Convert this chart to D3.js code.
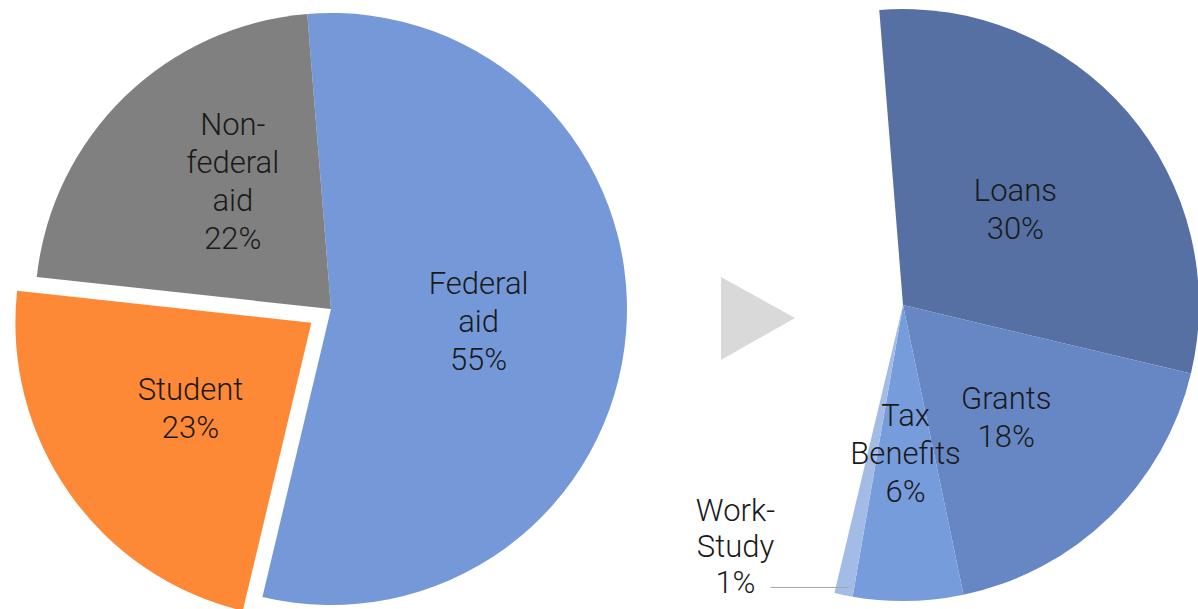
<!DOCTYPE html>
<html>
<head>
<meta charset="utf-8">
<script src="https://cdn.jsdelivr.net/npm/d3@7"></script>
<style>
  body { margin: 0; background: #fff; }
  svg text { font-family: Roboto, "Liberation Sans", sans-serif; font-weight: 300; fill: #1a1a1a; }
</style>
</head>
<body>
<div id="chart"></div>
<script>
// funding sources (left pie)
var sources = ["Federal aid", "Student", "Non-federal aid"];
var sourceLabels = [["Federal", "aid"], ["Student"], ["Non-", "federal", "aid"]];
var sourceValues = [55, 23, 22];

// federal aid breakdown (right pie)
var federal = ["Loans", "Grants", "Tax Benefits", "Work-Study"];
var federalLabels = [["Loans"], ["Grants"], ["Tax", "Benefits"], ["Work-", "Study"]];
var federalValues = [30, 18, 6, 1];

var svgWidth = 1198;
var svgHeight = 609;

var radius = 296;
var startAngle = -4.6 * Math.PI / 180;
var explode = 24;
var lineHeight = 38;

var sourceColors = ["#7599d8", "#fd8937", "#808080"];
var federalColors = ["#5670a3", "#6787c4", "#769cdc", "#a3bce6"];

var svg = d3.select("#chart")
  .append("svg")
  .attr("width", svgWidth)
  .attr("height", svgHeight);

var arc = d3.arc().innerRadius(0).outerRadius(radius);
var labelArc = d3.arc().innerRadius(radius * 0.5).outerRadius(radius * 0.5);

// multi-line label centred on a point
function addLabel(g, lines, pct, x, y, lh) {
  lh = lh || lineHeight;
  var all = lines.concat([pct + "%"]);
  var top = y - (all.length - 1) * lh / 2;
  var t = g.append("text")
    .attr("text-anchor", "middle")
    .attr("font-size", 31);
  all.forEach(function(s, i) {
    t.append("tspan")
      .attr("x", x)
      .attr("y", top + i * lh)
      .attr("dy", "0.36em")
      .text(s);
  });
}

// left pie
var total = d3.sum(sourceValues);
var leftPie = d3.pie().sort(null)
  .startAngle(startAngle)
  .endAngle(startAngle + 2 * Math.PI);
var leftArcs = leftPie(sourceValues);

var left = svg.append("g")
  .attr("transform", "translate(331, 309)");

leftArcs.forEach(function(d, i) {
  var off = [0, 0];
  if (sources[i] === "Student") {
    var mid = (d.startAngle + d.endAngle) / 2;
    off = [Math.sin(mid) * explode, -Math.cos(mid) * explode];
  }
  var g = left.append("g").attr("transform", `translate(${off[0]}, ${off[1]})`);
  g.append("path")
    .attr("d", arc(d))
    .attr("fill", sourceColors[i]);
  var c = labelArc.centroid(d);
  // the three-line label sits a bit higher in the slice
  if (sources[i] === "Non-federal aid") { c[0] += 5; c[1] -= 22; }
  addLabel(g, sourceLabels[i], sourceValues[i], c[0], c[1]);
});

// arrow
var arrow = d3.line();
svg.append("path")
  .attr("d", arrow([[721, 277], [795, 318], [721, 360]]) + "Z")
  .attr("fill", "#d9d9d9");

// right pie: same angles as the federal aid slice
var fedShare = sourceValues[0] / total;
var rightPie = d3.pie().sort(null)
  .startAngle(startAngle)
  .endAngle(startAngle + 2 * Math.PI * fedShare);
var rightArcs = rightPie(federalValues);

var right = svg.append("g")
  .attr("transform", "translate(903, 305)");

right.selectAll("path")
  .data(rightArcs)
  .enter()
  .append("path")
  .attr("d", arc)
  .attr("fill", (d, i) => federalColors[i]);

rightArcs.forEach(function(d, i) {
  if (federal[i] === "Work-Study") {
    var mid = (d.startAngle + d.endAngle) / 2;
    var ex = Math.sin(mid) * radius * 0.95;
    var ey = -Math.cos(mid) * radius * 0.95 + 7;
    right.append("line")
      .attr("x1", ex + 2).attr("y1", ey)
      .attr("x2", ex - 76).attr("y2", ey)
      .attr("stroke", "#a6a6a6")
      .attr("stroke-width", 1);
    addLabel(right, federalLabels[i], federalValues[i], ex - 111, ey - 42, 36);
  } else {
    var c = labelArc.centroid(d);
    if (federal[i] === "Grants") c[1] += 6;
    addLabel(right, federalLabels[i], federalValues[i], c[0], c[1]);
  }
});
</script>
</body>
</html>
